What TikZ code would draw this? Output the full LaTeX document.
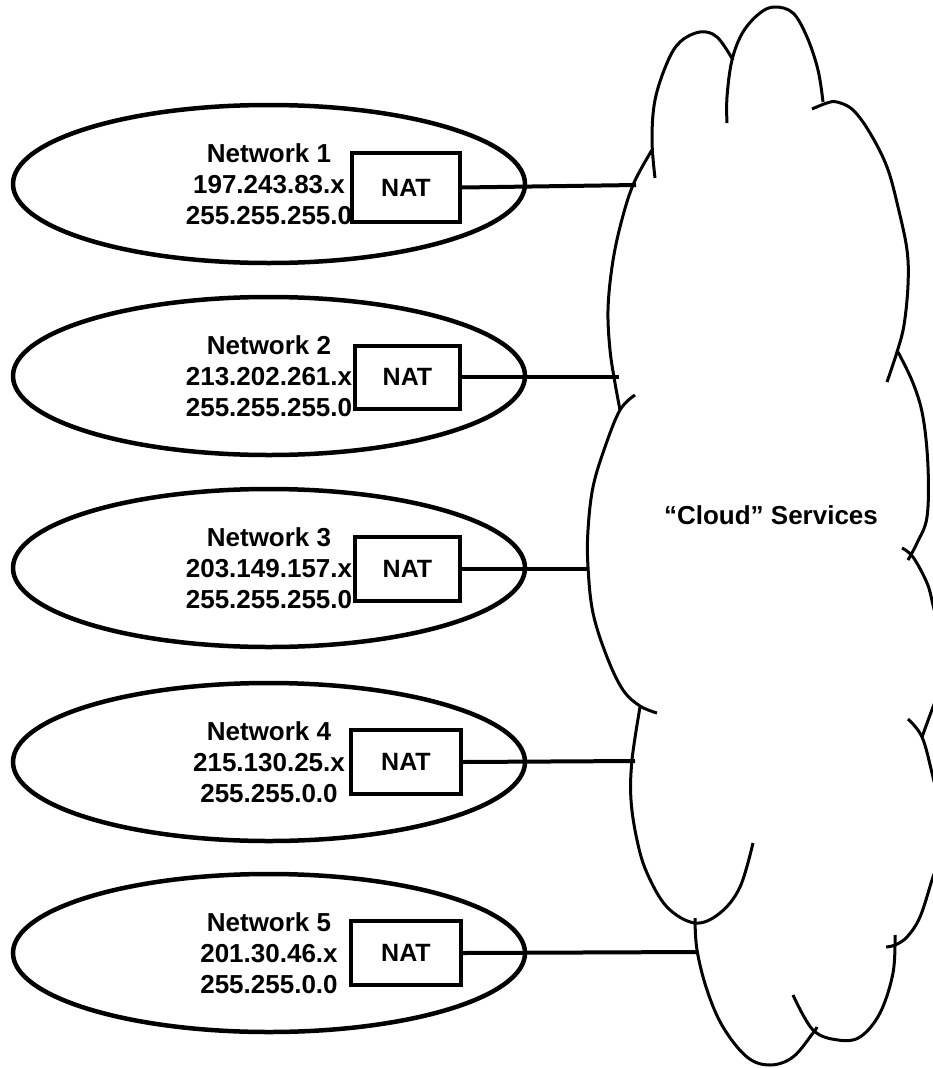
\documentclass[tikz,border=0pt]{standalone}
\usepackage{fontspec}
\setmainfont{Liberation Sans}
\usetikzlibrary{shapes.geometric}
\begin{document}
\begin{tikzpicture}[x=1pt,y=-1pt,
  netw/.style={ellipse, draw, line width=4.5pt, minimum width=512pt, minimum height=158pt,
    inner sep=0pt, align=center, font=\bfseries\fontsize{26}{31}\selectfont},
  natbox/.style={rectangle, draw, line width=4pt, inner sep=0pt,
    font=\bfseries\fontsize{25}{30}\selectfont},
  link/.style={line width=4pt},
  cloudarc/.style={line width=3pt},
  cloudlabel/.style={font=\bfseries\fontsize{26}{31}\selectfont}
]
\useasboundingbox (0,0) rectangle (933,1068);
\clip (0,0) rectangle (933,1068);

% networks
\node[netw] (net1) at (269,184) {Network 1\\197.243.83.x\\255.255.255.0};
\node[netw] (net2) at (269,376) {Network 2\\213.202.261.x\\255.255.255.0};
\node[netw] (net3) at (269,568) {Network 3\\203.149.157.x\\255.255.255.0};
\node[netw] (net4) at (269,762) {Network 4\\215.130.25.x\\255.255.0.0};
\node[netw] (net5) at (269,953) {Network 5\\201.30.46.x\\255.255.0.0};

% NAT boxes
\node[natbox, minimum width=108pt, minimum height=69pt] (nat1) at (406,187.5) {NAT};
\node[natbox, minimum width=105pt, minimum height=63pt] (nat2) at (407.5,377) {NAT};
\node[natbox, minimum width=105pt, minimum height=64.5pt] (nat3) at (407.5,569) {NAT};
\node[natbox, minimum width=110pt, minimum height=64.5pt] (nat4) at (406,762) {NAT};
\node[natbox, minimum width=110pt, minimum height=64pt] (nat5) at (406,953) {NAT};

% cloud attachment points
\coordinate (c1) at (636,185);
\coordinate (c2) at (619,377);
\coordinate (c3) at (588,569);
\coordinate (c4) at (635,761);
\coordinate (c5) at (697,952);

\draw[link] (nat1.east) -- (c1);
\draw[link] (nat2.east) -- (c2);
\draw[link] (nat3.east) -- (c3);
\draw[link] (nat4.east) -- (c4);
\draw[link] (nat5.east) -- (c5);

% cloud outline (separate lobes)
\draw[cloudarc] plot[smooth, tension=0.6] coordinates {(655,178) (652,140) (655,100) (667,63) (680,42) (700,32) (717,37) (733,60)};
\draw[cloudarc] plot[smooth, tension=0.6] coordinates {(727,123) (727,97) (732,60) (743,32) (760,13) (775,7) (793,13) (807,37) (818,70) (823,102)};
\draw[cloudarc] plot[smooth, tension=0.6] coordinates {(812,109) (827,103) (837,102) (853,110) (870,133) (887,167) (898,207) (907,250) (908,285) (904,325) (897,352) (887,382)};
\draw[cloudarc] plot[smooth, tension=0.6] coordinates {(652,150) (633,185) (620,227) (612,267) (608,310) (610,350) (615,383) (620,410)};
\draw[cloudarc] plot[smooth, tension=0.6] coordinates {(635,395) (620,410) (605,447) (593,487) (588,530) (588,567) (593,613) (607,657) (623,690) (640,706) (657,713)};
\draw[cloudarc] plot[smooth, tension=0.6] coordinates {(898,352) (913,383) (923,417) (928,467) (927,517) (917,543) (908,560)};
\draw[cloudarc] plot[smooth, tension=0.6] coordinates {(902,548) (913,557) (927,583) (933,605) (941,640) (944,660) (940,690) (933,707) (922,737)};
\draw[cloudarc] plot[smooth, tension=0.6] coordinates {(908,719) (922,737) (932,773) (940,810) (942,840) (938,862) (932,880) (920,917) (907,937) (895,945) (886,947)};
\draw[cloudarc] plot[smooth, tension=0.6] coordinates {(640,707) (632,760) (631,800) (637,840) (647,873) (667,907) (695,923) (720,913) (740,887) (753,843)};
\draw[cloudarc] plot[smooth, tension=0.6] coordinates {(695,918) (697,950) (707,990) (723,1027) (747,1057) (770,1065) (793,1057) (813,1033) (817,1027)};
\draw[cloudarc] plot[smooth, tension=0.6] coordinates {(895,935) (893,973) (880,1013) (860,1037) (838,1040) (813,1030) (793,995)};

\node[cloudlabel] (cloudtxt) at (771,515) {“Cloud” Services};
\end{tikzpicture}
\end{document}
